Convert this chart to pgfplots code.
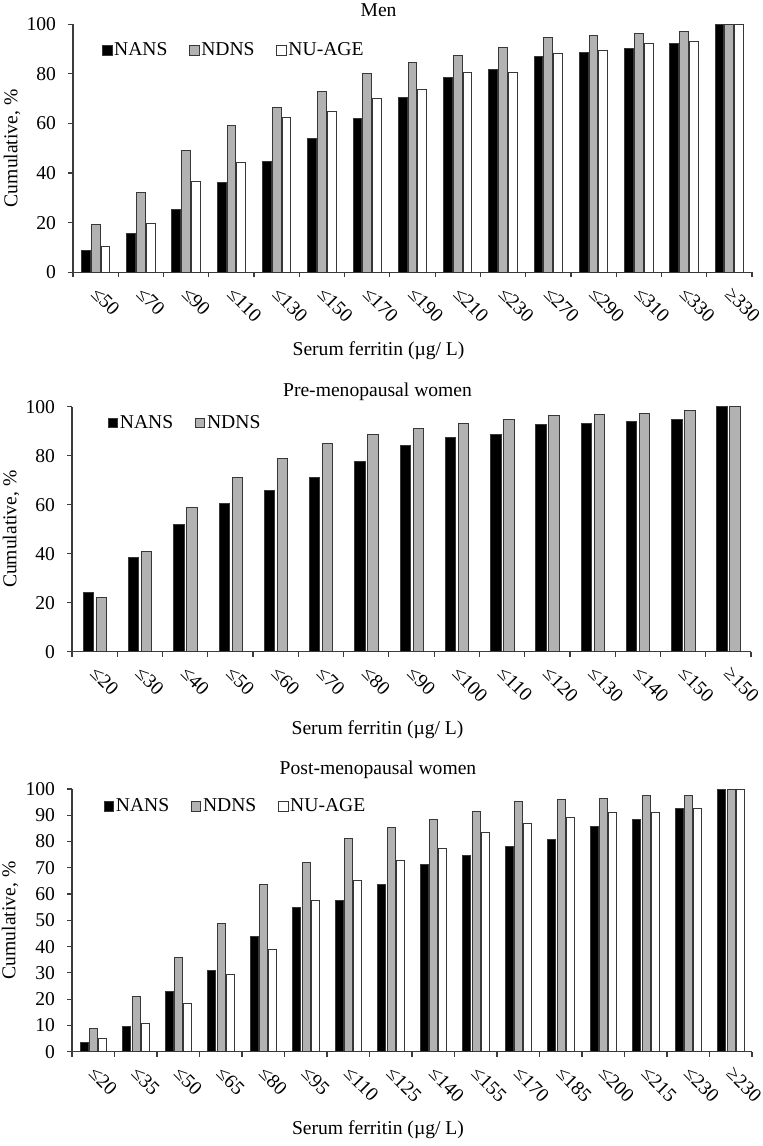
\documentclass[border=0pt]{standalone}
\usepackage{fontspec}
\setmainfont{Liberation Serif}
\usepackage{pgfplots}
\pgfplotsset{compat=1.18}
\definecolor{bargray}{RGB}{178,178,178}
\definecolor{edge}{RGB}{55,55,55}
\definecolor{axcol}{RGB}{60,60,60}
\newcommand{\fs}{\fontsize{9.8}{11}\selectfont}

\pgfplotsset{
  sqlegend/.style={legend image code/.code={\draw[##1] (0pt,-2.4pt) rectangle (4.8pt,2.4pt);}},
  panel/.style={
    scale only axis,
    anchor=south west,
    axis lines*=left,
    axis line style={axcol, line width=0.6pt},
    ymin=0, ymax=100,
    xmin=0.5,
    tick align=outside,
    major tick length=2.3pt,
    minor tick length=2.6pt,
    tick style={axcol, line width=0.6pt},
    major x tick style={draw=none},
    /pgf/number format/assume math mode=true,
    tick label style={font=\fs},
    yticklabel style={inner sep=1pt, xshift=-5pt},
    xticklabel style={xshift=1.9pt, yshift=-4.3pt, rotate=-45, anchor=north west, inner sep=0pt},
    every axis title/.style={at={(0.45,1)}, anchor=center, font=\fs},
    every axis x label/.style={at={(axis description cs:0.45,0)}, anchor=center, yshift=-39pt, font=\fs},
    xlabel={Serum ferritin (µg/ L)},
    ylabel={Cumulative, \%},
    legend style={draw=none, fill=none, anchor=west, inner sep=0pt, font=\fs,
      legend columns=-1,
      nodes={inner sep=0.8pt},
      /tikz/every even column/.append style={column sep=10pt}},
    legend cell align=left,
  },
  b1/.style={ybar, sqlegend, fill=black, draw=edge, line width=0.5pt},
  b2/.style={ybar, sqlegend, fill=bargray, draw=edge, line width=0.5pt},
  b3/.style={ybar, sqlegend, fill=white, draw=edge, line width=0.5pt},
}

\pgfplotstableread{
x nans ndns nuage
1 8.9 19.3 10.5
2 15.8 32.3 19.7
3 25.5 49.0 36.5
4 36.1 59.2 44.2
5 44.8 66.3 62.6
6 54.1 72.8 65.0
7 62.1 80.0 70.2
8 70.5 84.6 73.8
9 78.5 87.5 80.4
10 81.7 90.6 80.4
11 87.1 94.8 88.2
12 88.5 95.6 89.4
13 90.3 96.1 92.1
14 92.1 97.0 93.2
15 100 100 100
}\men

\pgfplotstableread{
x nans ndns
1 24.2 22.2
2 38.5 40.8
3 52.0 58.8
4 60.3 71.0
5 65.9 78.8
6 71.0 85.0
7 77.7 88.7
8 84.1 91.3
9 87.3 93.2
10 88.7 94.8
11 92.9 96.5
12 93.2 96.9
13 93.9 97.1
14 94.6 98.4
15 100 100
}\pre

\pgfplotstableread{
x nans ndns nuage
1 3.4 8.8 5.1
2 9.5 20.9 10.9
3 23.1 36.0 18.5
4 31.0 48.9 29.4
5 43.8 63.5 39.0
6 54.9 72.2 57.4
7 57.5 81.2 65.0
8 63.6 85.5 72.6
9 71.1 88.3 77.4
10 74.7 91.4 83.5
11 78.0 95.3 86.8
12 80.6 95.9 89.2
13 85.7 96.4 91.1
14 88.3 97.7 91.1
15 92.6 97.7 92.6
16 100 100 100
}\post

\begin{document}
\begin{tikzpicture}
\path[use as bounding box] (0,0) rectangle (381pt,573pt);

% Men
\begin{axis}[panel,
  at={(36.5pt,436.85pt)}, width=339.5pt, height=124pt,
  xmax=15.5,
  xtick={1,...,15},
  minor xtick={0.5,1.5,...,15.5},
  xticklabels={≤50,≤70,≤90,≤110,≤130,≤150,≤170,≤190,≤210,≤230,≤270,≤290,≤310,≤330,≥330},
  ytick={0,20,...,100},
  title={Men}, title style={yshift=7pt},
  every axis y label/.style={at={(axis description cs:-0.0898,0.5)}, rotate=90, anchor=center, font=\fs},
  legend style={at={(0.042,0.894)}},
]
\addplot[b1, bar width=4.4pt, bar shift=-4.9pt] table[x=x,y=nans]{\men};
\addplot[b2, bar width=4.4pt, bar shift=0pt] table[x=x,y=ndns]{\men};
\addplot[b3, bar width=4.4pt, bar shift=4.9pt] table[x=x,y=nuage]{\men};
\legend{NANS,NDNS,NU-AGE}
\end{axis}

% Pre-menopausal
\begin{axis}[panel,
  at={(36pt,247.15pt)}, width=339.5pt, height=122.5pt,
  xmax=15.5,
  xtick={1,...,15},
  minor xtick={0.5,1.5,...,15.5},
  xticklabels={≤20,≤30,≤40,≤50,≤60,≤70,≤80,≤90,≤100,≤110,≤120,≤130,≤140,≤150,≥150},
  ytick={0,20,...,100},
  title={Pre-menopausal women}, title style={yshift=7.5pt},
  every axis y label/.style={at={(axis description cs:-0.0898,0.5)}, rotate=90, anchor=center, font=\fs},
  legend style={at={(0.052,0.933)}},
]
\addplot[b1, bar width=5.2pt, bar shift=-3.1pt] table[x=x,y=nans]{\pre};
\addplot[b2, bar width=5.2pt, bar shift=3.4pt] table[x=x,y=ndns]{\pre};
\legend{NANS,NDNS}
\end{axis}

% Post-menopausal
\begin{axis}[panel,
  at={(36pt,47.15pt)}, width=340pt, height=131.35pt,
  xmax=16.5,
  xtick={1,...,16},
  minor xtick={0.5,1.5,...,16.5},
  xticklabels={≤20,≤35,≤50,≤65,≤80,≤95,≤110,≤125,≤140,≤155,≤170,≤185,≤200,≤215,≤230,≥230},
  ytick={0,10,...,100},
  title={Post-menopausal women}, title style={yshift=9.5pt},
  every axis y label/.style={at={(axis description cs:-0.091,0.5)}, rotate=90, anchor=center, font=\fs},
  legend style={at={(0.046,0.933)}},
]
\addplot[b1, bar width=4pt, bar shift=-4.4pt] table[x=x,y=nans]{\post};
\addplot[b2, bar width=4pt, bar shift=0.2pt] table[x=x,y=ndns]{\post};
\addplot[b3, bar width=4pt, bar shift=4.8pt] table[x=x,y=nuage]{\post};
\legend{NANS,NDNS,NU-AGE}
\end{axis}
\end{tikzpicture}
\end{document}
